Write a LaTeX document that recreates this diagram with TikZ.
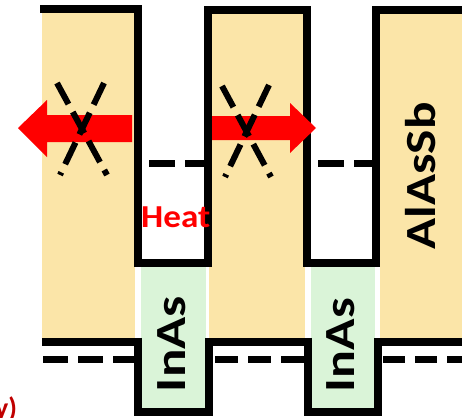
\documentclass[tikz,border=0pt]{standalone}
\usepackage{fontspec}
\setmainfont{Carlito}
\usepackage{graphicx}
\definecolor{barrier}{RGB}{251,229,168}
\definecolor{wellgreen}{RGB}{218,244,216}
\definecolor{darkred}{RGB}{192,0,0}
\begin{document}
\begin{tikzpicture}[x=1pt,y=-1pt,
  band/.style={line width=7.5pt, line join=miter, black},
  dashline/.style={line width=7pt, black},
  xline/.style={line width=6pt, black, dash pattern=on 24pt off 9pt},
  redarrow/.style={fill=red},
  lbl/.style={inner sep=0pt, font=\bfseries\fontsize{43}{43}\selectfont}]
\useasboundingbox (0,0) rectangle (462,417);
% layer fills
\fill[barrier] (42,9) rectangle (135,340);
\fill[barrier] (209,10) rectangle (305,340);
\fill[barrier] (380,10) rectangle (462,340);
\fill[wellgreen] (141,266) rectangle (206,410);
\fill[wellgreen] (311,266) rectangle (375,410);
% conduction band
\draw[band] (40,9) -- (138,9) -- (138,263) -- (208,263) -- (208,10) -- (307,10) -- (307,263) -- (376,263) -- (376,10) -- (462,10);
% valence band
\draw[band] (42,342) -- (138,342) -- (138,412) -- (209,412) -- (209,342) -- (308,342) -- (308,412) -- (378,412) -- (378,342) -- (462,342);
% dashed levels
\draw[dashline, dash pattern=on 26pt off 10pt] (149,163) -- (208,163);
\draw[dashline, dash pattern=on 26pt off 10pt] (318,163) -- (376,163);
\draw[dashline, dash pattern=on 25pt off 10pt] (43,359) -- (138,359);
\draw[dashline, dash pattern=on 23pt off 10pt] (215,359) -- (308,359);
\draw[dashline, dash pattern=on 22pt off 10pt] (383,359) -- (462,359);
% red arrows
\fill[redarrow] (18,128) -- (47,100) -- (47,115) -- (132,115) -- (132,142) -- (47,142) -- (47,157) -- cycle;
\fill[redarrow] (316,128) -- (290,103) -- (290,116) -- (212,116) -- (212,140) -- (290,140) -- (290,153) -- cycle;
% crosses
\draw[xline] (57,83) -- (107,175);
\draw[xline] (104,83) -- (60,175);
\draw[xline] (222,86) -- (271,177);
\draw[xline] (269,85) -- (225,177);
% labels
\node[inner sep=0pt, anchor=base west, text=red, font=\bfseries\fontsize{32}{32}\selectfont] (heat) at (141,227) {\resizebox{69pt}{\height}{Heat}};
\node[lbl, rotate=90, anchor=base] (inas1) at (185,344) {\resizebox{96pt}{\height}{InAs}};
\node[lbl, rotate=90, anchor=base] (inas2) at (354,345) {\resizebox{94pt}{\height}{InAs}};
\node[lbl, rotate=90, anchor=base] (alassb) at (435,176) {\resizebox{147pt}{\height}{AlAsSb}};
\node[inner sep=0pt, anchor=north west, text=darkred, font=\bfseries\fontsize{28}{28}\selectfont] (panel) at (-5,397) {y)};
\end{tikzpicture}
\end{document}
